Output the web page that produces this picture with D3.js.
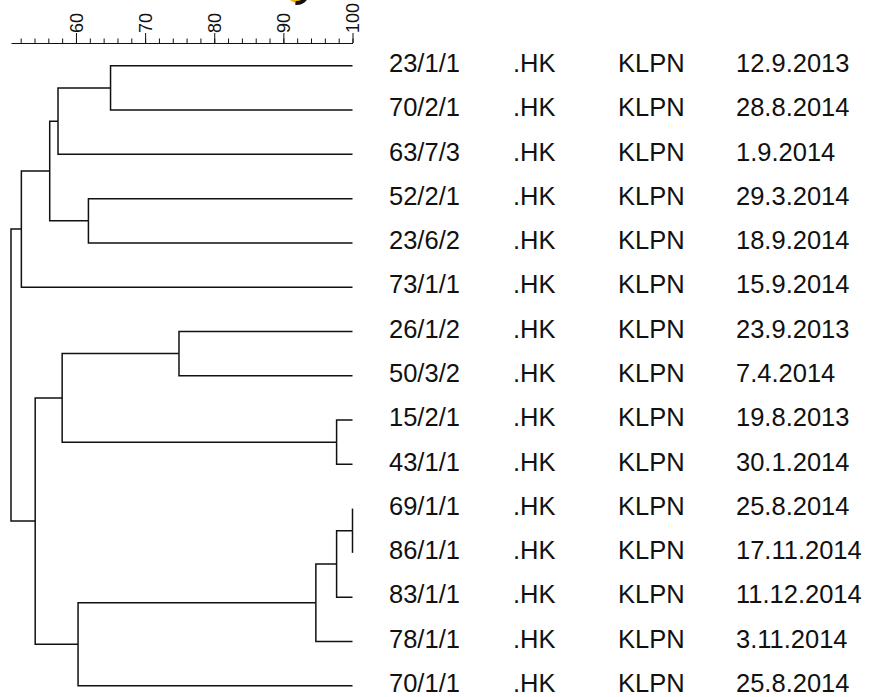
<!DOCTYPE html>
<html>
<head>
<meta charset="utf-8">
<script src="https://cdn.jsdelivr.net/npm/d3@7"></script>
<style>
    body { margin: 0; background: #fff; }
    text { font-family: "Liberation Sans", Arial, sans-serif; fill: #111; }
</style>
</head>
<body>
<div id="chart"></div>
<script>
// isolates, top to bottom
var isolates = ["23/1/1", "70/2/1", "63/7/3", "52/2/1", "23/6/2", "73/1/1", "26/1/2", "50/3/2",
                "15/2/1", "43/1/1", "69/1/1", "86/1/1", "83/1/1", "78/1/1", "70/1/1"];
var origins = [".HK", ".HK", ".HK", ".HK", ".HK", ".HK", ".HK", ".HK",
               ".HK", ".HK", ".HK", ".HK", ".HK", ".HK", ".HK"];
var species = ["KLPN", "KLPN", "KLPN", "KLPN", "KLPN", "KLPN", "KLPN", "KLPN",
               "KLPN", "KLPN", "KLPN", "KLPN", "KLPN", "KLPN", "KLPN"];
var dates = ["12.9.2013", "28.8.2014", "1.9.2014", "29.3.2014", "18.9.2014", "15.9.2014", "23.9.2013", "7.4.2014",
             "19.8.2013", "30.1.2014", "25.8.2014", "17.11.2014", "11.12.2014", "3.11.2014", "25.8.2014"];

// merges: [left, right, similarity %]; 0-14 are isolates, 15 and up are earlier merges
var merges = [
    [0, 1, 65.0],    // 15
    [15, 2, 57.4],   // 16
    [3, 4, 61.8],    // 17
    [16, 17, 56.2],  // 18
    [18, 5, 52.1],   // 19
    [6, 7, 74.9],    // 20
    [8, 9, 97.7],    // 21
    [20, 21, 58.0],  // 22
    [10, 11, 100],   // 23
    [23, 12, 97.7],  // 24
    [24, 13, 94.7],  // 25
    [25, 14, 60.3],  // 26
    [22, 26, 54.1],  // 27
    [19, 27, 50.6]   // 28 (root)
];

var majorTicks = [60, 70, 80, 90, 100];
var minorTicks = [52, 54, 56, 58, 60, 62, 64, 66, 68, 70, 72, 74, 76, 78, 80,
                  82, 84, 86, 88, 90, 92, 94, 96, 98, 100];

var width = 875, height = 697;

var svg = d3.select("#chart").append("svg")
    .attr("width", width)
    .attr("height", height);

var x = d3.scaleLinear().domain([50.6, 100]).range([11, 352.5]);
var y = d3.scalePoint().domain(d3.range(isolates.length)).range([65.8, 685.7]);

// small cut-off logo at the top edge
svg.append("circle")
    .attr("cx", 297).attr("cy", -7).attr("r", 10)
    .attr("fill", "#f4b400");
svg.append("path")
    .attr("transform", "translate(297,-7)")
    .attr("d", d3.arc().innerRadius(8).outerRadius(12).startAngle(Math.PI * 0.55).endAngle(Math.PI * 1.05)())
    .attr("fill", "#111");

// build the tree
var nodes = isolates.map(function (d, i) {
    return {leaf: i, sim: 100};
});
merges.forEach(function (m) {
    nodes.push({sim: m[2], children: [nodes[m[0]], nodes[m[1]]]});
});
var root = d3.hierarchy(nodes[nodes.length - 1]);
root.eachAfter(function (d) {
    d.py = d.children ? d3.mean(d.children, function (c) { return c.py; }) : y(d.data.leaf);
    d.px = x(d.data.sim);
});

//scale bar
var minorAxis = svg.append("g")
    .attr("transform", "translate(0,43)")
    .call(d3.axisTop(x).tickValues(minorTicks).tickSize(4.5).tickSizeOuter(0).tickFormat(""));
var majorAxis = svg.append("g")
    .attr("transform", "translate(0,43)")
    .call(d3.axisTop(x).tickValues(majorTicks).tickSize(10).tickSizeOuter(0));
majorAxis.select(".domain").remove();
svg.selectAll(".domain, .tick line").attr("stroke", "#111");
majorAxis.selectAll(".tick text")
    .attr("transform", "rotate(-90)")
    .attr("x", 10)
    .attr("y", 0)
    .attr("dy", "0.36em")
    .attr("text-anchor", "start")
    .attr("font-size", 18)
    .attr("font-family", "Liberation Sans, Arial, sans-serif")
    .attr("fill", "#111");

// branches
svg.append("g")
    .selectAll("path")
    .data(root.links())
    .enter().append("path")
    .attr("d", function (l) {
        return "M" + l.source.px + "," + l.source.py + "V" + l.target.py + "H" + l.target.px;
    })
    .attr("fill", "none")
    .attr("stroke", "#111")
    .attr("stroke-width", 1.5);

// row labels
var columns = [
    {values: isolates, x: 389},
    {values: origins, x: 513},
    {values: species, x: 618},
    {values: dates, x: 736}
];
var labels = svg.append("g").attr("font-size", 25.5);
columns.forEach(function (col) {
    labels.selectAll(null)
        .data(col.values)
        .enter().append("text")
        .attr("x", col.x)
        .attr("y", function (d, i) { return y(i) + 6.3; })
        .text(function (d) { return d; });
});
</script>
</body>
</html>
